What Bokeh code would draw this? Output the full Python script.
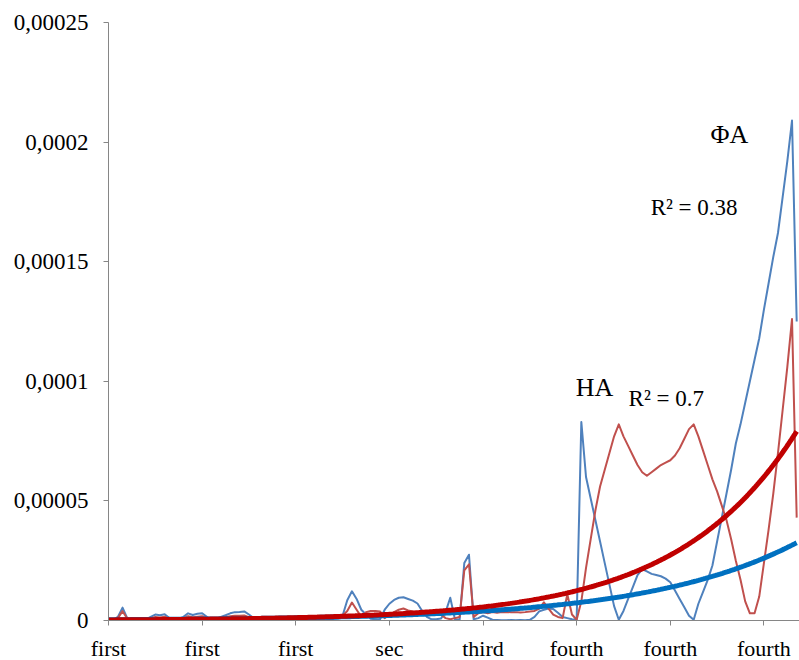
import numpy as np
from bokeh.plotting import figure
from bokeh.models import Range1d, FixedTicker, Label
from bokeh.embed import file_html
from bokeh.resources import INLINE

# ---- data ----
x_tick_labels = ["first", "first", "first", "sec", "third", "fourth", "fourth", "fourth"]
label_every = 20
y_ticks = [0, 0.00005, 0.0001, 0.00015, 0.0002, 0.00025]
y_tick_labels = ["0", "0,00005", "0,0001", "0,00015", "0,0002", "0,00025"]

# series values in units of 1e-6
fa_e6 = [
    0, 0.3, 1.5, 5.4, 1.0, 0.2, 0.2, 0.5, 0.5, 1.5,
    2.5, 2.2, 2.6, 1.0, 0.5, 0.8, 1.5, 3.0, 2.3, 2.8,
    3.0, 1.5, 0.5, 0.8, 1.5, 2.2, 3.0, 3.5, 3.6, 3.8,
    2.5, 1.0, 0.3, 0.2, 0.3, 0.3, 0.5, 0.8, 0.6, 0.5,
    0.4, 0.6, 0.8, 0.7, 0.5, 0.6, 0.8, 0.5, 0.6, 0.8,
    2.0, 8.5, 12.2, 9.0, 4.5, 2.5, 0.7, 0.5, 0.5, 4.5,
    7.0, 8.6, 9.5, 9.7, 9.0, 8.3, 7.1, 4.0, 1.5, 0.5,
    0.5, 0.8, 3.5, 9.5, 0.5, 0.3, 24.0, 27.5, 0.5, 1.0,
    2.0, 1.2, 0.3, 0.2, 0.1, 0.1, 0.2, 0.1, 0.2, 0.1,
    0.3, 1.5, 3.8, 4.5, 5.0, 4.8, 3.2, 1.5, 1.0, 0.5,
    0.3, 83, 60, 51, 42, 33, 24, 15, 6, 0.3,
    4, 9, 14, 19, 21.5, 20.5, 19.5, 19, 18.5, 17.5,
    16, 12.5, 9, 5.5, 2, 0.3, 7, 12, 17, 23,
    33, 43, 53, 63, 74, 82, 91, 100, 109, 118,
    130, 141, 152, 162, 177, 192, 209, 125,
]
ha_e6 = [
    0.2, 0.5, 1.0, 3.9, 0.8, 0.3, 0.3, 0.4, 0.4, 0.9,
    1.5, 1.3, 1.6, 0.6, 0.4, 0.6, 1.0, 1.8, 1.4, 1.6,
    1.8, 0.9, 0.4, 0.6, 1.0, 1.4, 1.8, 2.0, 2.0, 2.1,
    1.4, 0.6, 0.3, 0.4, 0.5, 0.6, 0.8, 1.0, 0.9, 0.8,
    0.7, 0.9, 1.1, 1.0, 0.9, 1.0, 1.2, 1.0, 1.1, 1.5,
    2.0, 4.0, 7.5, 4.5, 1.5, 3.5, 4.0, 4.0, 3.8, 1.0,
    2.5, 3.5, 4.5, 5.0, 4.2, 3.8, 3.5, 3.2, 3.0, 2.8,
    3.0, 2.5, 1.0, 0.5, 1.0, 1.5, 21.0, 23.5, 1.5, 3.0,
    3.5, 3.0, 3.5, 3.2, 3.5, 3.6, 3.4, 3.5, 3.3, 3.5,
    3.8, 4.0, 5.0, 7.6, 5.0, 2.5, 1.5, 1.0, 11.0, 2.5,
    0.3, 8, 22, 34, 46, 56, 63, 70, 77, 82,
    77, 73, 69, 65, 62, 60.5, 62, 63.5, 65, 66,
    67, 69, 72, 76, 80, 82, 77, 71, 65, 59,
    54, 48, 42, 34, 25, 17, 8, 3, 3, 10,
    24, 38, 53, 70, 88, 106, 126, 43,
]

# exponential trend lines y = a * exp(b * i)
fa_trend_a, fa_trend_b = 3.17e-7, 0.0315
ha_trend_a, ha_trend_b = 2.45e-7, 0.0393

fa_label, fa_r2 = "\u03a6A", "R\u00b2 = 0.38"
ha_label, ha_r2 = "HA", "R\u00b2 = 0.7"

# ---- build ----
n = len(fa_e6)
idx = np.arange(n)
fa = np.array(fa_e6) * 1e-6
ha = np.array(ha_e6) * 1e-6
tx = np.linspace(0, n - 1, 400)
fa_tr = fa_trend_a * np.exp(fa_trend_b * tx)
ha_tr = ha_trend_a * np.exp(ha_trend_b * tx)

FONT = "Liberation Serif"

p = figure(
    frame_width=691, frame_height=598,
    x_range=Range1d(0, n - 1 + 0.6), y_range=Range1d(0, 0.00025),
    output_backend="svg", toolbar_location=None,
    min_border_left=108, min_border_right=0, min_border_top=22, min_border_bottom=38,
    background_fill_color="white", border_fill_color="white",
)
p.grid.visible = False
p.outline_line_color = None

x_ticks = list(range(0, n, label_every))[:len(x_tick_labels)]
p.xaxis.ticker = FixedTicker(ticks=x_ticks)
p.xaxis.major_label_overrides = {t: l for t, l in zip(x_ticks, x_tick_labels)}
p.yaxis.ticker = FixedTicker(ticks=y_ticks)
p.yaxis.major_label_overrides = {t: l for t, l in zip(y_ticks, y_tick_labels)}

for ax in (p.xaxis, p.yaxis):
    ax.axis_line_color = "#868686"
    ax.axis_line_width = 1
    ax.major_tick_line_color = "#868686"
    ax.major_tick_out = 5
    ax.major_tick_in = 0
    ax.minor_tick_line_color = None
    ax.major_label_text_font = FONT
    ax.major_label_text_color = "black"
p.yaxis.major_label_text_font_size = "23px"
p.xaxis.major_label_text_font_size = "22px"
p.yaxis.major_label_standoff = 15
p.xaxis.major_label_standoff = 10

p.line(idx, fa, line_color="#4F81BD", line_width=2, line_join="round")
p.line(idx, ha, line_color="#C0504D", line_width=2, line_join="round")
p.line(tx, fa_tr, line_color="#0070C0", line_width=5)
p.line(tx, ha_tr, line_color="#C00000", line_width=5)

for x, y, t, fs in [(128.6, 2.03e-4, fa_label, "26px"), (115.8, 1.725e-4, fa_r2, "23px"),
                    (99.8, 0.975e-4, ha_label, "26px"), (111.1, 0.93e-4, ha_r2, "23px")]:
    p.add_layout(Label(x=x, y=y, text=t, text_font=FONT, text_font_size=fs,
                       text_color="black", text_baseline="alphabetic", text_align="left"))

open("out.html", "w").write(file_html(p, INLINE))
